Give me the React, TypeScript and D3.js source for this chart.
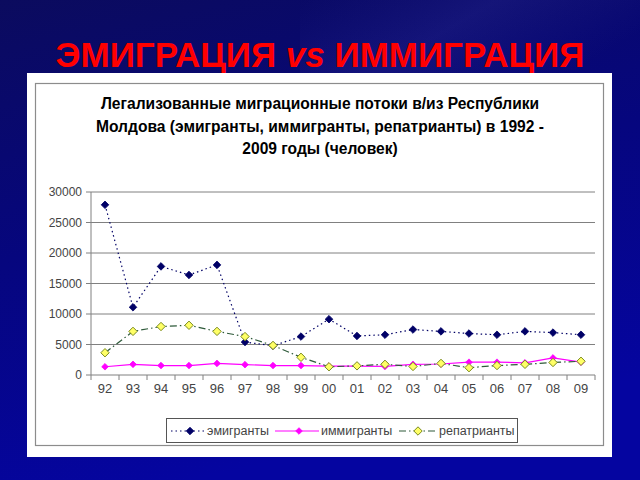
import React from "react";
import * as d3 from "d3";

const years = ["92","93","94","95","96","97","98","99","00","01","02","03","04","05","06","07","08","09"];
const emigrants = [27900,11100,17800,16400,18050,5400,4800,6300,9150,6400,6600,7450,7150,6800,6600,7150,6950,6600];
const immigrants = [1350,1750,1550,1550,1900,1700,1550,1550,1450,1450,1400,1750,1800,2100,2100,2000,2800,2100];
const repatriants = [3650,7150,7950,8150,7150,6300,4850,2900,1350,1500,1750,1400,1900,1200,1550,1750,2050,2250];
const yTicks = [0,5000,10000,15000,20000,25000,30000];

const mainTitle = ["ЭМИГРАЦИЯ ", "vs", " ИММИГРАЦИЯ"];
const chartTitle = [
  "Легализованные миграционные потоки в/из Республики",
  "Молдова (эмигранты, иммигранты, репатрианты) в 1992 -",
  "2009 годы (человек)",
];
const legendLabels = ["эмигранты", "иммигранты", "репатрианты"];

const FONT = "Liberation Sans, Arial, sans-serif";

function diamond(cx: number, cy: number, r: number) {
  return `M${cx},${cy - r}L${cx + r},${cy}L${cx},${cy + r}L${cx - r},${cy}Z`;
}

export default function App() {
  const W = 640, H = 480;
  const left = 91, right = 595, top = 192, bottom = 375;
  const x = d3.scaleBand().domain(years).range([left, right]);
  const cx = (d: string) => (x(d) as number) + x.bandwidth() / 2;
  const y = d3.scaleLinear().domain([0, 30000]).range([bottom, top]);
  const line = (vals: number[]) =>
    d3.line<number>().x((_, i) => cx(years[i])).y((v) => y(v))(vals) as string;

  const series = [
    { name: legendLabels[0], vals: emigrants, stroke: "#000066", dash: "1.5,3", width: 1.2, marker: "emi" },
    { name: legendLabels[1], vals: immigrants, stroke: "#ff00ff", dash: "", width: 1.2, marker: "imm" },
    { name: legendLabels[2], vals: repatriants, stroke: "#2e5a3a", dash: "7,3,1.5,3", width: 1.2, marker: "rep" },
  ];

  const drawMarker = (type: string, px: number, py: number, key: any) => {
    if (type === "emi") return <path key={key} d={diamond(px, py, 3.8)} fill="#000066" stroke="#000066" strokeWidth={0.8} />;
    if (type === "imm") return <path key={key} d={diamond(px, py, 3.3)} fill="#ff00ff" stroke="#ff00ff" strokeWidth={0.8} />;
    return <path key={key} d={diamond(px, py, 4.2)} fill="#ffff66" stroke="#7a8a20" strokeWidth={1} />;
  };

  const tickXs = years.map((d) => x(d) as number).concat([right]);

  const legendItems = [
    { lx1: 171, lx2: 204, mx: 190, tx: 207 },
    { lx1: 275, lx2: 319, mx: 299, tx: 321 },
    { lx1: 399, lx2: 436, mx: 418, tx: 439 },
  ];

  return (
    <svg width={W} height={H} style={{ position: "absolute", left: 0, top: 0 }} fontFamily={FONT}>
      <defs>
        <linearGradient id="bg" x1="0" y1="0" x2="0.3" y2="1">
          <stop offset="0" stopColor="#0b0b5e" />
          <stop offset="0.5" stopColor="#06067e" />
          <stop offset="1" stopColor="#0505a0" />
        </linearGradient>
        <linearGradient id="streak" x1="0" y1="0" x2="1" y2="0.4">
          <stop offset="0" stopColor="#3a3aa0" stopOpacity={0} />
          <stop offset="0.5" stopColor="#4a4ab0" stopOpacity={0.18} />
          <stop offset="1" stopColor="#3a3aa0" stopOpacity={0} />
        </linearGradient>
      </defs>
      <rect width={W} height={H} fill="url(#bg)" />
      <rect x={300} y={0} width={340} height={80} fill="url(#streak)" />

      <text x={320} y={67} textAnchor="middle" fill="#ff0000" fontWeight="bold" fontSize={35}>
        <tspan>{mainTitle[0]}</tspan>
        <tspan fontStyle="italic">{mainTitle[1]}</tspan>
        <tspan>{mainTitle[2]}</tspan>
      </text>

      <rect x={27} y={73} width={585} height={384} fill="#ffffff" />
      <rect x={35.5} y={83.5} width={568} height={362} fill="#ffffff" stroke="#8c8c8c" strokeWidth={1.2} />

      {chartTitle.map((t, i) => (
        <text key={i} x={320} y={109 + i * 22.5} textAnchor="middle" fontWeight="bold" fontSize={15.6} fill="#000">
          {t}
        </text>
      ))}

      {yTicks.map((t) => (
        <g key={t}>
          {t > 0 && <line x1={left} x2={right} y1={y(t)} y2={y(t)} stroke="#808080" strokeWidth={1} />}
          <line x1={left - 5} x2={left} y1={y(t)} y2={y(t)} stroke="#808080" />
          <text x={left - 9} y={y(t) + 4} textAnchor="end" fontSize={12} fill="#444">{t}</text>
        </g>
      ))}
      <line x1={left} x2={left} y1={top} y2={bottom} stroke="#808080" />
      <line x1={left} x2={right} y1={bottom} y2={bottom} stroke="#808080" />
      {tickXs.map((tx, i) => (
        <line key={i} x1={tx} x2={tx} y1={bottom} y2={bottom + 5} stroke="#808080" />
      ))}
      {years.map((d) => (
        <text key={d} x={cx(d)} y={bottom + 18} textAnchor="middle" fontSize={13} fill="#444">{d}</text>
      ))}

      {series.map((s) => (
        <path key={s.name} d={line(s.vals)} fill="none" stroke={s.stroke} strokeWidth={s.width} strokeDasharray={s.dash || undefined} />
      ))}
      {series.map((s) => s.vals.map((v, i) => drawMarker(s.marker, cx(years[i]), y(v), s.name + i)))}

      <rect x={166.5} y={418.5} width={351} height={24} fill="#fff" stroke="#555" strokeWidth={1} />
      {series.map((s, i) => {
        const it = legendItems[i];
        return (
          <g key={s.name}>
            <line x1={it.lx1} x2={it.lx2} y1={431} y2={431} stroke={s.stroke} strokeWidth={s.width} strokeDasharray={s.dash || undefined} />
            {drawMarker(s.marker, it.mx, 431, "lm" + i)}
            <text x={it.tx} y={435} fontSize={12.5} fill="#444">{s.name}</text>
          </g>
        );
      })}
    </svg>
  );
}
